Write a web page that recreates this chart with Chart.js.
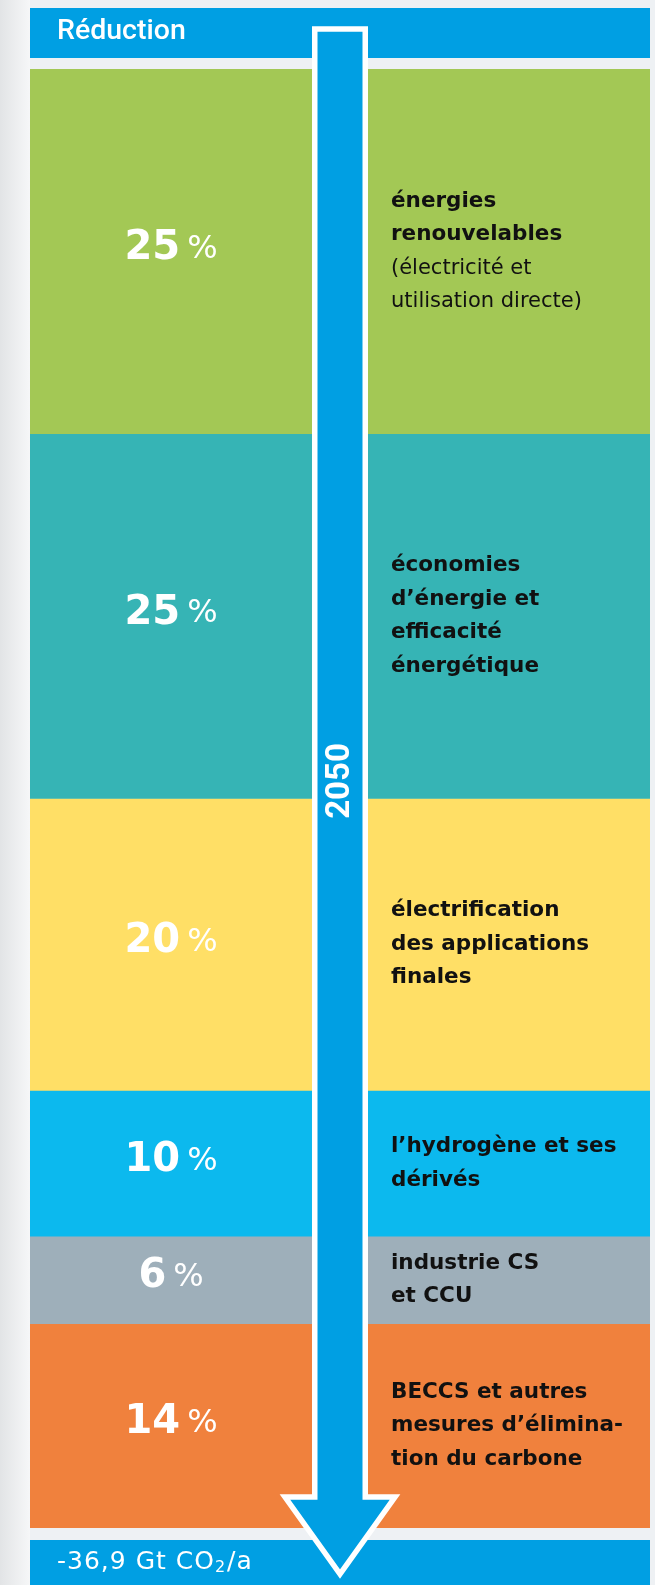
<!DOCTYPE html>
<html>
<head>
<meta charset="utf-8">
<script src="https://cdn.jsdelivr.net/npm/chart.js@4.4.1/dist/chart.umd.min.js"></script>
<style>
  html, body { margin: 0; padding: 0; background: #f4f5f7; }
  canvas { display: block; }
</style>
</head>
<body>
<canvas id="reduction_chart" width="655" height="1585"></canvas>
<script>
// one stacked column, read top to bottom
const categories = ["2050"];
const shares = [25, 25, 20, 10, 6, 14];
const colors = ["#a3c855", "#36b4b5", "#ffdf66", "#0cb9ee", "#9eafba", "#f0813d"];
const descriptions = [
  ["énergies", "renouvelables", "(électricité et", "utilisation directe)"],
  ["économies", "d’énergie et", "efficacité", "énergétique"],
  ["électrification", "des applications", "finales"],
  ["l’hydrogène et ses", "dérivés"],
  ["industrie CS", "et CCU"],
  ["BECCS et autres", "mesures d’élimina-", "tion du carbone"]
];
const boldLines = [2, 4, 3, 2, 2, 3];
const headerText = "Réduction";
const footerText = ["-36,9 Gt CO", "2", "/a"];
const arrowLabelAt = 48.8; // where "2050" sits on the 0-100 scale

const BLUE = "#009fe3";

const decorPlugin = {
  id: "decor",
  beforeDraw(chart) {
    const ctx = chart.ctx, a = chart.chartArea;
    ctx.save();
    ctx.fillStyle = "#eef1f4";
    ctx.fillRect(0, 0, chart.width, chart.height);
    const g = ctx.createLinearGradient(0, 0, a.left, 0);
    g.addColorStop(0, "#e2e4e6");
    g.addColorStop(1, "#f6f7f8");
    ctx.fillStyle = g;
    ctx.fillRect(0, 0, a.left, chart.height);

    // header and footer bands
    ctx.fillStyle = BLUE;
    ctx.fillRect(a.left, a.top - 61, a.right - a.left, 50);
    ctx.fillRect(a.left, a.bottom + 12, a.right - a.left, chart.height - a.bottom - 12);

    ctx.fillStyle = "#ffffff";
    ctx.textBaseline = "middle";
    ctx.textAlign = "left";
    ctx.font = "500 28.5px Roboto";
    ctx.fillText(headerText, a.left + 27, a.top - 37);

    let x = a.left + 27, y = a.bottom + 34;
    ctx.letterSpacing = "1px";
    ctx.font = "25px 'DejaVu Sans'";
    ctx.fillText(footerText[0], x, y);
    x += ctx.measureText(footerText[0]).width;
    ctx.font = "16px 'DejaVu Sans'";
    ctx.fillText(footerText[1], x, y + 6);
    x += ctx.measureText(footerText[1]).width + 1;
    ctx.font = "25px 'DejaVu Sans'";
    ctx.fillText(footerText[2], x, y);
    ctx.letterSpacing = "0px";
    ctx.restore();
  },
  afterDatasetsDraw(chart) {
    const ctx = chart.ctx, a = chart.chartArea;
    const cx = (a.left + a.right) / 2;
    ctx.save();

    // labels for each segment
    chart.data.datasets.forEach((ds, i) => {
      const bar = chart.getDatasetMeta(i).data[0];
      const midY = (bar.y + bar.base) / 2;

      const num = String(ds.data[0]);
      ctx.fillStyle = "#ffffff";
      ctx.textBaseline = "middle";
      ctx.textAlign = "left";
      ctx.font = "bold 40px 'DejaVu Sans'";
      const wNum = ctx.measureText(num).width;
      ctx.font = "32px 'DejaVu Sans'";
      const wPct = ctx.measureText("%").width;
      const gap = 7;
      const lx = (a.left + cx - 28) / 2 - (wNum + gap + wPct) / 2;
      ctx.font = "bold 40px 'DejaVu Sans'";
      ctx.fillText(num, lx, midY - 3);
      ctx.font = "32px 'DejaVu Sans'";
      ctx.fillText("%", lx + wNum + gap, midY - 2);

      const lines = descriptions[i];
      const lh = 33.5;
      const y0 = midY - (lines.length - 1) * lh / 2;
      ctx.fillStyle = "#111111";
      lines.forEach((t, k) => {
        ctx.font = (k < boldLines[i] ? "bold 21.5px" : "21px") + " 'DejaVu Sans'";
        ctx.fillText(t, cx + 51, y0 + k * lh);
      });
    });

    // the arrow down the middle
    const half = 25.25, headHalf = 55;
    const top = a.top - 40, headBase = a.bottom - 31, tip = a.bottom + 46;
    ctx.beginPath();
    ctx.moveTo(cx - half, top);
    ctx.lineTo(cx + half, top);
    ctx.lineTo(cx + half, headBase);
    ctx.lineTo(cx + headHalf, headBase);
    ctx.lineTo(cx, tip);
    ctx.lineTo(cx - headHalf, headBase);
    ctx.lineTo(cx - half, headBase);
    ctx.closePath();
    ctx.fillStyle = BLUE;
    ctx.fill();
    ctx.lineWidth = 5.5;
    ctx.lineJoin = "miter";
    ctx.strokeStyle = "#ffffff";
    ctx.stroke();

    const ly = chart.scales.y.getPixelForValue(arrowLabelAt);
    ctx.translate(cx, ly);
    ctx.rotate(-Math.PI / 2);
    ctx.fillStyle = "#ffffff";
    ctx.textAlign = "center";
    ctx.textBaseline = "middle";
    ctx.font = "bold 33px Roboto";
    ctx.fillText(chart.data.labels[0], 0, 1);
    ctx.restore();
  }
};

const chart = new Chart(document.getElementById("reduction_chart").getContext("2d"), {
  type: "bar",
  data: {
    labels: categories,
    datasets: shares.map((v, i) => ({
      label:           descriptions[i].join(" "),
      data:            [v],
      backgroundColor: colors[i],
      borderWidth:     0,
      barPercentage:   1,
      categoryPercentage: 1
    }))
  },
  options: {
    responsive: false,
    animation: false,
    devicePixelRatio: 1,
    layout: { padding: { left: 30, right: 5, top: 69, bottom: 57 } },
    plugins: { legend: { display: false }, tooltip: { enabled: false } },
    scales: {
      x: { display: false, stacked: true },
      y: { display: false, stacked: true, reverse: true, min: 0, max: 100 }
    }
  },
  plugins: [decorPlugin]
});
</script>
</body>
</html>
